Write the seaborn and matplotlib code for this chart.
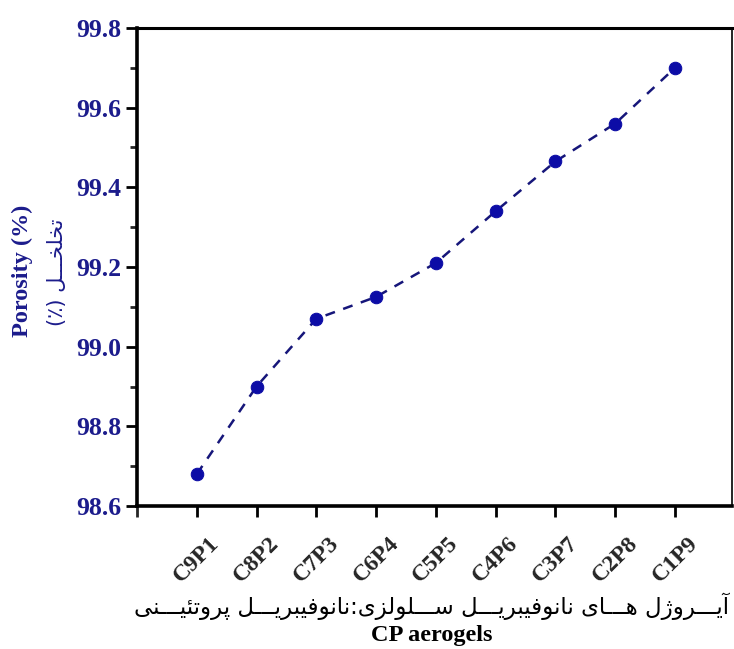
import matplotlib
matplotlib.use('Agg')
import matplotlib.pyplot as plt
from matplotlib.ticker import MultipleLocator, FixedLocator
import seaborn as sns
import pandas as pd

# Data
samples = ['C9P1', 'C8P2', 'C7P3', 'C6P4', 'C5P5', 'C4P6', 'C3P7', 'C2P8', 'C1P9']
porosity = [98.68, 98.90, 99.07, 99.125, 99.21, 99.34, 99.465, 99.56, 99.70]
y_ticks = [98.6, 98.8, 99.0, 99.2, 99.4, 99.6, 99.8]

ylabel_en = 'Porosity (%)'
ylabel_fa = 'تخلخـــل (٪)'
xlabel_fa = 'آیـــروژل هـــای نانوفیبریـــل ســـلولزی:نانوفیبریـــل پروتئیـــنی'
xlabel_en = 'CP aerogels'

# Persian letter forms: isolated, final, initial, medial (None = does not join forward)
FORMS = {
    'آ': (0xFE81, 0xFE82, None, None),
    'ا': (0xFE8D, 0xFE8E, None, None),
    'ب': (0xFE8F, 0xFE90, 0xFE91, 0xFE92),
    'پ': (0xFB56, 0xFB57, 0xFB58, 0xFB59),
    'ت': (0xFE95, 0xFE96, 0xFE97, 0xFE98),
    'ئ': (0xFE89, 0xFE8A, 0xFE8B, 0xFE8C),
    'خ': (0xFEA5, 0xFEA6, 0xFEA7, 0xFEA8),
    'ر': (0xFEAD, 0xFEAE, None, None),
    'ز': (0xFEAF, 0xFEB0, None, None),
    'ژ': (0xFB8A, 0xFB8B, None, None),
    'س': (0xFEB1, 0xFEB2, 0xFEB3, 0xFEB4),
    'ف': (0xFED1, 0xFED2, 0xFED3, 0xFED4),
    'ل': (0xFEDD, 0xFEDE, 0xFEDF, 0xFEE0),
    'ن': (0xFEE5, 0xFEE6, 0xFEE7, 0xFEE8),
    'ه': (0xFEE9, 0xFEEA, 0xFEEB, 0xFEEC),
    'و': (0xFEED, 0xFEEE, None, None),
    'ی': (0xFBFC, 0xFBFD, 0xFBFE, 0xFBFF),
}
TATWEEL = 'ـ'


def joins_forward(ch):
    return ch == TATWEEL or (ch in FORMS and FORMS[ch][2] is not None)


def joins_back(ch):
    return ch == TATWEEL or ch in FORMS


def shape_fa(text):
    # simple contextual shaping + right-to-left ordering for matplotlib
    out = []
    for i, ch in enumerate(text):
        if ch not in FORMS:
            out.append(ch)
            continue
        prev = text[i - 1] if i > 0 else ''
        nxt = text[i + 1] if i + 1 < len(text) else ''
        before = joins_forward(prev)
        after = joins_back(nxt) and FORMS[ch][2] is not None
        iso, fin, ini, med = FORMS[ch]
        if before and after:
            out.append(chr(med))
        elif before:
            out.append(chr(fin))
        elif after:
            out.append(chr(ini))
        else:
            out.append(chr(iso))
    mirror = {'(': ')', ')': '('}
    return ''.join(mirror.get(c, c) for c in reversed(out))


sns.set_style('ticks')
plt.rcParams['font.family'] = ['Liberation Serif', 'DejaVu Sans']

label_blue = '#1c1c8c'
data = pd.DataFrame({'sample': samples, 'porosity': porosity})

fig = plt.figure(figsize=(7.34, 6.49), dpi=100)
ax = fig.add_axes([0.1866, 0.2203, 0.8104, 0.7366])

sns.lineplot(data=data, x='sample', y='porosity', ax=ax, color='#16167a',
             linestyle=(0, (4, 3.5)), linewidth=1.8, marker='o', markersize=9,
             markerfacecolor='#0c0ca6', markeredgecolor='#0c0ca6')

ax.set_xlim(-1, 8.95)
ax.set_ylim(98.6, 99.8)
ax.set_yticks(y_ticks)
ax.set_yticklabels([f'{t:.1f}' for t in y_ticks], fontsize=18.5, fontweight='bold',
                   color=label_blue)
ax.yaxis.set_minor_locator(MultipleLocator(0.1))
ax.set_xticks(range(len(samples)))
ax.set_xticklabels(samples, rotation=45, ha='center', fontsize=17,
                   fontweight='bold')
ax.xaxis.set_minor_locator(FixedLocator([-1]))

ax.tick_params(axis='both', which='major', direction='out', length=8, width=2,
               color='black')
ax.tick_params(axis='y', which='major', pad=3)
ax.tick_params(axis='x', which='major', pad=11)
ax.tick_params(axis='both', which='minor', direction='out', length=5, width=2)
ax.tick_params(axis='x', which='minor', length=8)

for side in ['left', 'bottom']:
    ax.spines[side].set_linewidth(2.6)
ax.spines['top'].set_linewidth(2.2)
ax.spines['right'].set_linewidth(1.2)
for side in ax.spines:
    ax.spines[side].set_color('black')

ax.set_xlabel('')
ax.set_ylabel('')

fig.text(22 / 734, 1 - 271 / 649, ylabel_en, rotation=90, ha='center',
         va='center', fontsize=17.5, fontweight='bold', color=label_blue)
fig.text(57 / 734, 1 - 272 / 649, shape_fa(ylabel_fa), rotation=90,
         ha='center', va='center', fontsize=15, color=label_blue,
         family=['DejaVu Sans'])
fig.text(432 / 734, 1 - 606 / 649, shape_fa(xlabel_fa), ha='center',
         va='center', fontsize=16.5, color='black', family=['DejaVu Sans'])
fig.text(432 / 734, 1 - 635 / 649, xlabel_en, ha='center', va='center',
         fontsize=17.5, fontweight='bold', color='black')

plt.savefig('out.png', dpi=100)
plt.close()
